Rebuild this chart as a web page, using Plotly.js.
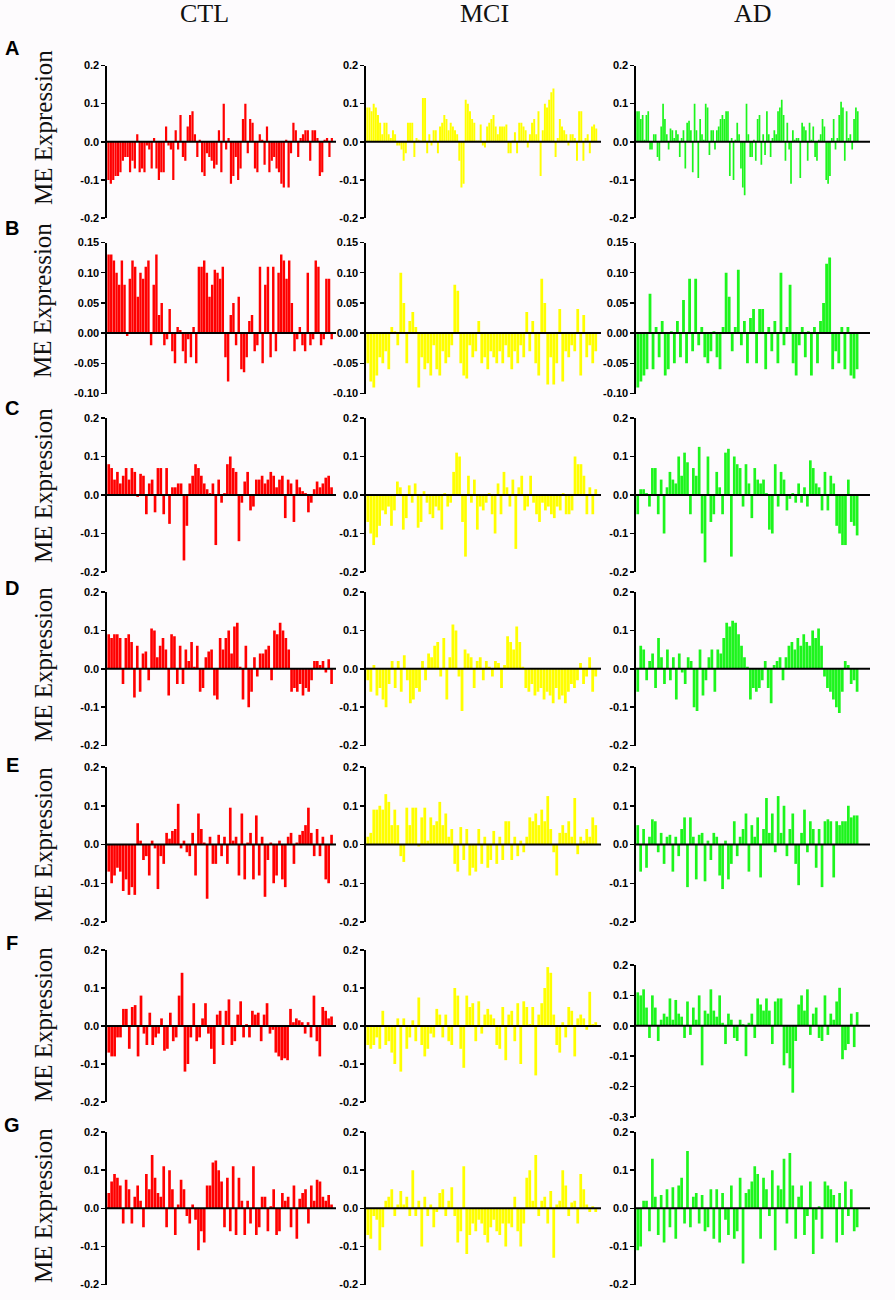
<!DOCTYPE html>
<html><head><meta charset="utf-8">
<script src="https://cdn.plot.ly/plotly-3.0.1.min.js"></script>
<style>body{margin:0;background:#fdfbfd}#chart{width:895px;height:1300px}</style>
</head><body><div id="chart"></div>
<script>
const groups = ['CTL', 'MCI', 'AD'];
const rowLetters = ['A', 'B', 'C', 'D', 'E', 'F', 'G'];
const yTitle = 'ME Expression';

const ticksStd = [-0.2, -0.1, 0, 0.1, 0.2];
const ticksStdText = ['-0.2', '-0.1', '0.0', '0.1', '0.2'];
const ticksB = [-0.10, -0.05, 0, 0.05, 0.10, 0.15];
const ticksBText = ['-0.10', '-0.05', '0.00', '0.05', '0.10', '0.15'];
const ticksFad = [-0.3, -0.2, -0.1, 0, 0.1, 0.2];
const ticksFadText = ['-0.3', '-0.2', '-0.1', '0.0', '0.1', '0.2'];

const ctlA = [-0.10,-0.11,-0.10,-0.09,-0.09,-0.08,-0.05,-0.04,-0.04,-0.08,-0.05,-0.07,0.02,-0.08,-0.07,-0.08,-0.01,-0.02,-0.07,0.01,-0.07,-0.10,-0.08,-0.08,0.04,-0.01,-0.02,-0.10,0.03,-0.02,0.07,-0.04,-0.05,0.04,0.07,0.08,0.02,-0.04,0.005,-0.08,-0.09,-0.03,-0.04,-0.05,-0.07,-0.06,0.03,-0.08,0.10,-0.02,0.01,-0.11,-0.09,-0.04,-0.10,-0.07,0.06,0.10,-0.03,0.06,0.05,-0.07,-0.08,0.02,0.005,-0.06,0.04,-0.08,-0.05,-0.04,-0.07,-0.08,-0.11,-0.12,0.005,-0.12,-0.03,0.05,0.03,-0.04,0.01,0.02,0.03,0.03,-0.05,0.03,0.03,0.01,-0.09,-0.08,0.005,0.01,-0.04,0.01];
const mciA = [0.09,0.09,0.08,0.10,0.09,0.07,0.05,0.02,0.05,0.05,0.02,0.01,0.03,0.02,-0.01,-0.01,-0.02,-0.05,-0.03,0.05,0.05,0.05,-0.04,0.01,0.005,0.003,0.115,0.115,-0.03,0.02,-0.01,0.03,0.03,-0.03,0.04,0.05,0.07,0.06,0.03,0.05,0.04,0.03,0.02,-0.05,-0.12,-0.11,0.11,0.10,0.08,0.06,0.05,0.003,0.003,0.045,-0.01,-0.015,0.04,0.05,0.06,0.07,0.04,0.02,0.04,0.04,0.04,0.045,-0.03,-0.03,0.003,0.025,-0.03,0.05,0.05,0.04,0.03,-0.015,0.02,0.05,0.06,0.02,0.08,-0.09,0.03,0.10,0.09,0.11,0.13,0.14,-0.04,0.01,0.06,0.04,0.03,0.02,-0.01,0.02,0.02,0.01,-0.05,0.08,0.08,-0.05,0.01,0.02,-0.03,0.04,0.045,0.035];
const adA = [0.08,0.08,0.06,0.07,0.005,0.07,0.08,-0.02,-0.02,0.02,0.02,-0.04,-0.05,0.04,0.10,0.06,0.02,-0.02,0.035,0.03,0.01,0.03,0.02,-0.04,0.01,0.03,-0.07,0.05,0.055,0.03,-0.08,0.10,0.03,-0.095,0.06,0.02,0.005,0.10,0.09,-0.035,0.03,0.03,-0.02,0.03,0.04,0.06,0.07,0.06,0.08,0.08,-0.09,0.01,-0.10,0.005,0.05,0.02,-0.07,-0.12,-0.14,0.10,0.02,-0.04,-0.04,0.005,-0.05,0.06,0.07,-0.06,0.02,-0.035,0.08,0.02,-0.04,0.01,0.03,0.02,0.08,0.09,0.11,0.07,-0.05,0.05,-0.02,-0.11,0.03,0.005,0.01,0.01,-0.095,0.05,0.04,0.03,-0.05,0.05,0.005,0.04,-0.04,-0.05,0.005,0.02,0.06,0.04,-0.10,-0.11,-0.09,0.01,0.06,-0.02,0.01,0.07,0.105,0.09,-0.05,0.08,0.01,0.02,-0.02,0.06,0.09,0.08];

const ctlB = [0.13,0.13,0.12,0.10,0.08,0.12,0.08,-0.005,0.09,0.12,0.11,0.06,0.10,0.09,0.11,0.12,-0.02,0.08,0.13,0.03,0.05,-0.02,-0.01,0.04,-0.03,-0.05,0.01,0.005,-0.03,-0.05,-0.01,-0.04,0.01,-0.05,0.11,0.11,0.12,0.10,0.06,0.08,0.105,0.10,0.09,0.11,-0.04,-0.08,0.03,0.05,-0.02,0.06,-0.06,-0.065,-0.04,0.02,0.03,-0.03,-0.02,0.11,-0.05,0.08,0.11,-0.04,0.11,-0.03,0.10,0.13,0.12,0.09,0.12,0.05,-0.03,-0.01,0.01,-0.02,-0.03,0.10,-0.02,-0.01,0.12,0.11,-0.02,-0.01,0.09,0.09,-0.01];
const mciB = [-0.05,-0.08,-0.09,-0.07,-0.04,-0.05,-0.03,-0.06,0.01,0.003,-0.02,0.10,0.05,-0.05,0.02,0.035,0.01,-0.09,-0.04,-0.06,-0.05,-0.07,-0.02,-0.06,-0.07,-0.03,-0.05,-0.04,-0.02,0.08,0.07,-0.05,-0.07,-0.075,-0.02,-0.04,-0.03,0.02,-0.05,-0.04,-0.06,-0.03,-0.04,-0.05,-0.03,-0.05,-0.02,-0.04,-0.06,-0.03,-0.05,-0.02,-0.04,0.035,-0.03,0.02,-0.05,-0.07,0.09,0.05,-0.085,-0.04,-0.085,-0.05,0.04,-0.08,-0.03,-0.04,-0.02,-0.03,0.04,-0.07,0.03,-0.04,-0.02,-0.05,-0.03];
const adB = [-0.09,-0.08,-0.07,-0.06,0.065,-0.06,0.01,-0.04,0.02,-0.07,-0.06,0.003,-0.05,0.02,-0.04,0.055,-0.05,0.09,-0.03,0.09,-0.02,0.01,-0.04,-0.05,-0.03,0.003,-0.04,-0.06,0.01,0.10,0.06,-0.03,0.01,0.105,-0.02,0.02,-0.05,0.025,0.04,-0.05,0.04,0.04,-0.06,0.01,-0.03,0.02,-0.05,0.10,-0.02,0.01,0.08,-0.05,-0.07,-0.02,0.01,-0.04,0.003,-0.07,0.01,-0.05,0.02,0.05,0.115,0.125,-0.06,-0.03,-0.05,0.01,-0.06,0.01,-0.07,-0.075,-0.06];

const ctlC = [0.08,0.07,0.04,0.06,0.03,0.05,0.07,0.04,0.07,0.06,-0.005,0.055,0.05,-0.05,0.03,0.04,-0.045,0.07,0.07,-0.05,0.07,-0.075,0.02,0.02,0.03,0.03,-0.17,-0.08,0.03,0.05,0.08,0.07,0.05,0.03,0.015,0.005,0.03,-0.13,0.04,-0.02,0.005,0.08,0.10,0.07,0.06,-0.12,-0.02,0.035,0.06,-0.04,-0.03,0.04,0.04,0.05,0.03,0.04,0.06,0.05,0.02,0.04,0.05,-0.06,0.04,0.03,-0.07,0.04,0.02,0.01,0.005,-0.045,-0.02,0.015,0.035,0.02,0.03,0.045,0.05,0.02];
const mciC = [-0.07,-0.10,-0.13,-0.11,-0.08,-0.04,-0.05,-0.03,-0.08,-0.04,0.035,0.02,-0.09,-0.06,0.025,-0.02,0.03,-0.085,-0.07,0.01,-0.02,-0.05,-0.06,-0.03,-0.04,-0.09,0.005,-0.03,-0.02,0.06,0.11,0.10,-0.07,-0.16,0.05,-0.02,0.04,-0.09,-0.03,-0.04,-0.02,0.005,-0.05,-0.10,0.03,-0.05,0.06,0.02,-0.03,0.04,-0.14,0.02,0.05,-0.04,-0.03,0.05,-0.02,-0.05,-0.07,-0.02,-0.04,-0.03,-0.05,-0.06,-0.03,-0.04,0.005,-0.05,-0.05,-0.04,0.10,0.08,0.08,0.05,-0.05,0.02,-0.05,0.015];
const adC = [-0.05,0.015,0.015,0.005,-0.03,0.07,0.07,-0.05,0.04,-0.10,0.02,0.06,0.04,0.03,0.10,0.05,0.11,0.085,-0.05,0.07,0.05,0.125,-0.10,-0.175,0.10,-0.07,-0.05,0.06,0.02,-0.05,0.11,0.12,-0.16,0.10,0.08,0.07,-0.03,0.08,0.03,-0.06,0.07,0.04,0.03,0.04,0.005,-0.09,-0.10,0.08,-0.03,0.06,0.04,-0.04,-0.01,0.005,-0.02,0.03,-0.02,0.02,-0.03,0.09,0.07,0.03,0.02,-0.04,0.06,-0.04,0.05,0.03,-0.08,-0.10,-0.13,-0.13,0.04,-0.07,-0.08,-0.105];

const ctlD = [0.09,0.08,0.09,0.09,0.08,-0.04,0.08,0.09,0.07,-0.075,0.06,-0.06,0.04,0.045,-0.03,0.105,0.10,0.03,0.06,0.08,0.05,-0.07,0.09,0.085,-0.04,0.06,-0.04,0.05,0.02,0.07,0.005,0.06,-0.06,-0.05,0.03,0.045,0.05,-0.07,-0.08,0.08,0.05,0.08,0.10,0.04,0.11,0.12,0.005,-0.08,0.06,-0.10,-0.06,0.03,-0.02,0.04,0.04,0.05,0.06,-0.03,0.10,0.09,0.12,0.10,0.08,0.05,-0.06,-0.05,-0.06,-0.04,-0.07,-0.05,-0.06,-0.03,0.02,0.02,0.01,0.02,-0.01,0.025,-0.04];
const mciD = [-0.03,-0.06,0.01,-0.07,-0.05,-0.08,-0.10,-0.04,0.02,-0.05,0.02,-0.06,0.035,-0.03,-0.09,-0.08,-0.05,-0.06,0.02,-0.03,0.04,0.03,0.06,0.07,-0.02,0.08,-0.08,0.03,0.115,0.10,-0.02,-0.11,0.05,0.04,0.03,-0.05,0.02,0.03,-0.03,0.02,0.005,-0.02,0.02,0.015,-0.05,0.01,0.085,0.07,0.05,0.11,0.07,0.005,-0.05,-0.06,-0.04,-0.07,-0.06,-0.05,-0.08,-0.06,-0.07,-0.09,-0.05,-0.08,-0.07,-0.09,-0.06,-0.04,-0.05,-0.03,0.015,-0.04,-0.02,0.03,-0.06,-0.02];
const adD = [-0.06,0.06,0.05,-0.03,0.02,0.04,-0.05,0.08,0.03,-0.04,0.05,-0.03,0.03,-0.08,0.04,-0.01,-0.04,0.03,0.02,-0.10,-0.11,0.05,-0.07,-0.03,0.03,0.05,-0.06,0.05,0.04,0.08,0.12,0.11,0.125,0.12,0.09,0.06,0.03,0.005,-0.08,-0.05,-0.06,-0.05,-0.03,0.02,-0.05,-0.09,0.01,0.02,0.03,-0.03,0.03,0.06,0.07,0.05,0.08,0.06,0.09,0.07,0.06,0.10,0.08,0.105,0.06,-0.02,-0.05,-0.06,-0.08,-0.10,-0.115,-0.06,0.02,0.01,-0.04,-0.03,-0.06];

const ctlE = [-0.07,-0.10,-0.08,-0.06,-0.07,-0.12,-0.09,-0.13,-0.11,-0.13,0.055,0.01,-0.04,-0.03,-0.08,0.01,-0.01,-0.115,-0.03,-0.05,0.03,0.015,0.035,0.04,0.105,-0.01,0.01,-0.02,-0.03,0.03,-0.08,0.08,0.04,0.005,-0.14,0.02,-0.05,-0.05,0.025,-0.03,0.02,-0.05,0.095,0.01,0.02,-0.08,0.08,-0.09,0.005,0.03,-0.09,0.075,-0.08,0.02,-0.135,-0.04,0.005,-0.10,-0.08,0.01,-0.09,-0.11,0.02,0.03,-0.05,0.005,0.025,0.035,0.05,0.095,0.03,-0.03,0.04,-0.03,0.02,-0.09,-0.10,0.025];
const mciE = [0.02,0.03,0.09,0.09,0.10,0.09,0.13,0.11,0.05,0.09,0.05,-0.03,-0.045,0.095,0.05,0.095,0.095,-0.005,0.07,0.095,0.01,0.07,0.05,0.06,0.11,0.05,0.08,0.02,0.04,-0.05,-0.07,0.045,-0.04,0.04,-0.08,-0.06,-0.07,0.04,-0.05,0.02,-0.06,-0.04,0.035,-0.05,0.02,-0.04,0.06,0.06,-0.04,0.02,-0.03,0.01,-0.02,0.02,0.07,0.06,0.08,0.05,0.09,0.06,0.125,0.04,-0.02,-0.08,0.03,0.05,0.03,0.06,0.02,0.12,-0.025,0.02,0.01,0.04,0.02,0.07,0.05];
const adE = [0.05,-0.07,0.04,-0.06,0.02,0.065,0.06,-0.02,0.03,-0.05,0.02,0.025,-0.07,0.02,-0.03,0.04,0.07,-0.11,0.07,0.02,-0.09,0.025,0.03,-0.095,0.01,-0.04,0.03,0.02,-0.08,-0.115,0.01,-0.09,-0.05,0.06,-0.03,0.02,0.04,0.08,-0.07,0.05,0.02,0.07,-0.085,0.04,0.12,0.03,0.08,-0.02,0.125,0.03,0.10,-0.03,0.04,0.08,-0.05,-0.105,0.03,0.09,-0.02,0.06,0.04,-0.06,0.04,-0.11,0.06,0.065,0.06,-0.085,0.06,0.05,0.06,0.06,0.10,0.07,0.075,0.075];

const ctlF = [-0.07,-0.08,-0.08,-0.03,-0.03,0.045,0.045,-0.06,0.05,0.055,-0.08,0.08,-0.02,-0.05,0.035,-0.05,-0.03,-0.02,0.02,-0.065,-0.06,0.035,-0.04,-0.03,0.08,0.14,-0.12,-0.10,-0.03,0.06,-0.04,-0.03,0.02,0.06,-0.02,-0.06,-0.10,0.03,0.04,-0.05,0.04,0.07,-0.05,-0.04,0.03,0.065,-0.03,0.005,-0.03,0.04,0.03,0.035,-0.04,0.03,0.06,-0.02,-0.01,-0.07,-0.08,-0.09,-0.085,-0.09,0.045,0.01,0.02,0.015,0.01,-0.02,0.01,-0.03,0.08,-0.04,-0.08,0.05,0.04,0.02,0.025];
const mciF = [-0.05,-0.06,-0.05,-0.03,-0.06,0.04,-0.05,-0.04,-0.07,-0.10,0.02,-0.12,0.02,-0.06,-0.03,0.015,-0.04,0.075,-0.05,-0.08,-0.06,-0.02,-0.03,0.045,0.03,-0.03,0.03,-0.04,-0.05,0.10,0.08,-0.06,-0.11,0.08,0.05,0.06,-0.04,0.065,-0.02,0.03,0.045,0.03,0.02,-0.05,-0.06,0.05,-0.09,0.03,0.04,-0.04,0.06,-0.10,0.065,0.05,0.005,0.05,-0.13,0.03,0.06,0.10,0.155,0.14,0.03,-0.05,-0.07,0.01,-0.03,0.05,0.04,-0.08,0.02,0.03,0.02,-0.01,0.09,0.005,0.01];
const adF = [0.11,0.10,0.12,0.06,-0.04,0.10,0.06,-0.05,0.02,0.04,0.03,0.09,0.02,0.085,0.04,0.03,-0.04,0.08,-0.03,0.06,0.02,0.10,-0.13,0.05,0.04,0.12,0.05,0.03,0.10,0.01,-0.06,0.04,0.02,-0.04,-0.05,0.02,0.005,-0.10,0.01,0.04,-0.04,0.09,0.07,0.05,0.09,0.05,-0.06,0.08,0.09,0.09,-0.13,-0.09,-0.14,-0.22,-0.05,0.07,0.10,0.05,0.12,-0.03,0.04,0.06,-0.04,-0.05,0.10,-0.03,0.04,0.02,0.08,0.125,-0.11,-0.08,-0.06,0.04,-0.07,0.045];

const ctlG = [0.04,0.07,0.09,0.08,0.06,-0.04,0.075,0.05,-0.04,0.03,0.06,0.02,-0.05,0.09,0.05,0.14,0.08,0.04,0.03,0.11,-0.05,0.10,0.05,-0.07,0.01,0.075,0.05,-0.02,-0.04,0.01,-0.03,-0.11,-0.06,-0.09,0.06,0.06,0.12,0.125,0.10,0.07,-0.05,0.08,-0.06,0.11,-0.07,0.08,0.02,-0.07,0.02,-0.04,0.11,-0.07,-0.05,0.03,0.03,-0.06,0.005,0.05,-0.07,-0.06,0.04,0.02,0.03,-0.05,0.06,-0.08,0.025,0.04,0.05,-0.04,0.06,0.02,0.075,0.07,0.03,0.02,0.035,0.01];
const mciG = [-0.07,-0.08,-0.02,-0.03,-0.11,-0.05,0.02,0.03,0.05,-0.02,0.01,0.045,0.01,0.03,-0.02,0.10,-0.02,0.02,-0.10,0.03,-0.02,0.01,-0.05,-0.01,0.04,0.05,-0.02,0.02,0.055,-0.02,-0.09,-0.06,0.11,-0.12,-0.07,-0.04,-0.06,-0.03,-0.04,-0.07,-0.09,-0.05,-0.03,-0.06,-0.07,-0.04,-0.10,-0.04,-0.05,0.03,-0.06,-0.10,-0.04,0.08,0.10,0.02,0.14,-0.02,0.02,0.03,-0.04,0.045,-0.13,0.01,0.02,0.10,0.06,-0.02,0.015,0.02,-0.04,0.09,0.05,0.01,-0.01,0.005,-0.01];
const adG = [-0.11,-0.10,0.02,0.02,-0.06,0.13,0.03,-0.07,0.035,-0.09,0.05,-0.05,0.055,-0.08,0.06,0.08,-0.04,0.15,-0.05,0.03,0.04,-0.04,0.035,-0.06,-0.05,0.05,-0.08,0.05,-0.09,0.04,-0.03,-0.07,0.06,-0.08,-0.06,0.08,-0.145,0.04,0.05,0.07,0.11,0.09,-0.08,0.08,0.05,-0.02,0.10,-0.11,0.06,0.05,0.13,-0.04,0.145,0.06,-0.08,0.03,0.06,-0.07,-0.02,0.07,-0.12,-0.03,0.005,-0.08,0.07,0.06,0.05,0.035,-0.09,0.04,-0.07,0.07,-0.02,0.05,-0.06,-0.05];

const panels = [
  [ctlA, mciA, adA], [ctlB, mciB, adB], [ctlC, mciC, adC], [ctlD, mciD, adD],
  [ctlE, mciE, adE], [ctlF, mciF, adF], [ctlG, mciG, adG]
];

// geometry (pixels)
const W = 895, H = 1300;
const colPx = [[107, 336], [366, 601], [636, 870]];
const barPad = [0.012, 0.015, 0.05];
const rowPx = [[65.5, 218], [242.5, 393.5], [418, 572], [592, 745.5], [767, 922], [950, 1102], [1132, 1284.5]];
const fAdPx = [965, 1117];
const headerX = [204, 484, 753];
const letterY = [48, 228, 408, 588, 765, 943, 1125];
const titleY = [128, 301, 486, 665, 845, 1025, 1206];
const colors = ['#ff0000', '#ffff00', '#1df51d'];

const traces = [];
const shapes = [];
const annotations = [];
const layout = {
  width: W, height: H,
  margin: {l: 0, r: 0, t: 0, b: 0},
  paper_bgcolor: '#fdfbfd', plot_bgcolor: 'rgba(0,0,0,0)',
  showlegend: false, bargap: 0.08
};

let k = 0;
for (let r = 0; r < panels.length; r++) {
  for (let c = 0; c < 3; c++) {
    k++;
    const id = k === 1 ? '' : String(k);
    const data = panels[r][c];
    const n = data.length;
    let yr = rowPx[r];
    let tv = ticksStd, tt = ticksStdText, range = [-0.2, 0.2];
    if (r === 1) { tv = ticksB; tt = ticksBText; range = [-0.10, 0.15]; }
    if (r === 5 && c === 2) { tv = ticksFad; tt = ticksFadText; range = [-0.3, 0.2]; yr = fAdPx; }
    layout['xaxis' + id] = {
      domain: [colPx[c][0] / W, colPx[c][1] / W],
      range: [-0.6, n - 0.4 + barPad[c] * n],
      anchor: 'y' + id,
      showgrid: false, zeroline: false, showline: false,
      showticklabels: false, ticks: '', fixedrange: true
    };
    layout['yaxis' + id] = {
      domain: [1 - yr[1] / H, 1 - yr[0] / H],
      range: range, anchor: 'x' + id,
      tickmode: 'array', tickvals: tv, ticktext: tt,
      showline: true, linecolor: '#000', linewidth: 1.6,
      ticks: 'outside', ticklen: 4, tickwidth: 1.5, tickcolor: '#000',
      showgrid: false, zeroline: false,
      tickfont: {family: 'Liberation Sans, Arial, sans-serif', size: 11, weight: 'bold', color: '#000'},
      fixedrange: true
    };
    traces.push({
      type: 'bar',
      x: data.map((_, i) => i), y: data,
      xaxis: 'x' + id, yaxis: 'y' + id,
      marker: {color: colors[c], line: {width: 0}},
      hoverinfo: 'skip'
    });
    shapes.push({
      type: 'line', layer: 'above',
      xref: 'x' + id + ' domain', x0: 0, x1: 1,
      yref: 'y' + id, y0: 0, y1: 0,
      line: {color: '#000', width: 2}
    });
  }
  annotations.push({
    text: rowLetters[r], xref: 'paper', yref: 'paper',
    x: 12 / W, y: 1 - letterY[r] / H, xanchor: 'center', yanchor: 'middle',
    showarrow: false,
    font: {family: 'Liberation Sans, Arial, sans-serif', size: 20, weight: 'bold', color: '#000'}
  });
  annotations.push({
    text: yTitle, xref: 'paper', yref: 'paper', textangle: -90,
    x: 43 / W, y: 1 - titleY[r] / H, xanchor: 'center', yanchor: 'middle',
    showarrow: false,
    font: {family: 'Liberation Serif, Times New Roman, serif', size: 25, color: '#111'}
  });
}
for (let c = 0; c < 3; c++) {
  annotations.push({
    text: groups[c], xref: 'paper', yref: 'paper',
    x: headerX[c] / W, y: 1 - 14 / H, xanchor: 'center', yanchor: 'middle',
    showarrow: false,
    font: {family: 'Liberation Serif, Times New Roman, serif', size: 26, color: '#111'}
  });
}
layout.shapes = shapes;
layout.annotations = annotations;

Plotly.newPlot('chart', traces, layout, {staticPlot: true, displayModeBar: false});
</script>
</body></html>
